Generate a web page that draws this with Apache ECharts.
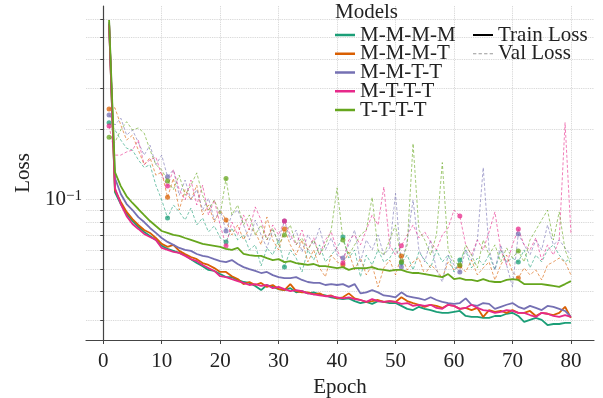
<!DOCTYPE html>
<html>
<head>
<meta charset="utf-8">
<script src="https://cdn.jsdelivr.net/npm/echarts@6/dist/echarts.min.js"></script>
<style>html,body{margin:0;padding:0;background:#fff}#c{width:603px;height:398px}</style>
</head>
<body>
<div id="c"></div>
<script>
const models = ['M-M-M-M','M-M-M-T','M-M-T-T','M-T-T-T','T-T-T-T'];
const colors = ['#1b9e77','#d95f02','#7570b3','#e7298a','#66a61e'];
const epochs = Array.from({length: 80}, (_, i) => i + 1);
const xTickValues = [0,10,20,30,40,50,60,70,80];
const yTickValues = [0.03,0.04,0.05,0.06,0.07,0.08,0.09,0.1,0.2,0.3,0.4,0.5,0.6];
const yLabelValues = [0.1];

const trainMMMM = [0.57,0.1075,0.0954,0.0865,0.0806,0.0760,0.0723,0.0695,0.0668,0.0630,
0.0611,0.0599,0.0587,0.0575,0.0552,0.0531,0.0515,0.0496,0.0491,0.0476,
0.0462,0.0462,0.0449,0.0440,0.0436,0.0423,0.0406,0.0427,0.0419,0.0410,
0.0406,0.0414,0.0397,0.0402,0.0393,0.0397,0.0389,0.0385,0.0378,0.0374,
0.0371,0.0374,0.0364,0.0357,0.0361,0.0354,0.0364,0.0361,0.0357,0.0357,
0.0347,0.0337,0.0333,0.0344,0.0337,0.0333,0.0327,0.0324,0.0324,0.0327,
0.0330,0.0314,0.0311,0.0311,0.0308,0.0308,0.0314,0.0314,0.0321,0.0324,
0.0314,0.0296,0.0302,0.0308,0.0302,0.0287,0.0290,0.0290,0.0293,0.0293];
const trainMMMT = [0.57,0.1097,0.0974,0.0882,0.0822,0.0775,0.0737,0.0716,0.0681,0.0642,
0.0624,0.0636,0.0599,0.0581,0.0564,0.0552,0.0531,0.0521,0.0505,0.0486,
0.0486,0.0466,0.0453,0.0431,0.0440,0.0427,0.0436,0.0419,0.0427,0.0410,
0.0406,0.0431,0.0402,0.0397,0.0397,0.0389,0.0393,0.0382,0.0385,0.0374,
0.0378,0.0393,0.0374,0.0368,0.0361,0.0364,0.0368,0.0361,0.0364,0.0361,
0.0378,0.0364,0.0357,0.0351,0.0344,0.0351,0.0347,0.0340,0.0351,0.0347,
0.0337,0.0340,0.0333,0.0340,0.0311,0.0333,0.0327,0.0330,0.0324,0.0333,
0.0324,0.0324,0.0330,0.0314,0.0324,0.0321,0.0317,0.0324,0.0344,0.0308];
const trainMMTT = [0.58,0.1235,0.1054,0.0954,0.0899,0.0838,0.0798,0.0752,0.0716,0.0681,
0.0655,0.0636,0.0617,0.0605,0.0599,0.0581,0.0570,0.0564,0.0552,0.0541,
0.0536,0.0547,0.0526,0.0510,0.0500,0.0491,0.0481,0.0486,0.0471,0.0462,
0.0457,0.0457,0.0462,0.0449,0.0440,0.0436,0.0436,0.0427,0.0431,0.0427,
0.0431,0.0419,0.0431,0.0393,0.0397,0.0406,0.0397,0.0385,0.0382,0.0378,
0.0397,0.0382,0.0378,0.0374,0.0368,0.0378,0.0368,0.0361,0.0357,0.0354,
0.0357,0.0374,0.0351,0.0347,0.0357,0.0354,0.0337,0.0344,0.0351,0.0357,
0.0344,0.0337,0.0347,0.0340,0.0333,0.0347,0.0344,0.0337,0.0330,0.0311];
const trainMTTT = [0.565,0.1118,0.0954,0.0846,0.0782,0.0745,0.0709,0.0688,0.0668,0.0617,
0.0605,0.0593,0.0587,0.0570,0.0552,0.0541,0.0521,0.0505,0.0491,0.0466,
0.0462,0.0453,0.0444,0.0436,0.0427,0.0431,0.0423,0.0427,0.0414,0.0419,
0.0410,0.0402,0.0406,0.0402,0.0393,0.0389,0.0385,0.0382,0.0382,0.0378,
0.0374,0.0378,0.0371,0.0368,0.0361,0.0371,0.0364,0.0361,0.0364,0.0361,
0.0354,0.0357,0.0347,0.0351,0.0347,0.0351,0.0340,0.0337,0.0351,0.0347,
0.0337,0.0340,0.0351,0.0340,0.0333,0.0330,0.0324,0.0327,0.0333,0.0330,
0.0324,0.0324,0.0317,0.0311,0.0324,0.0321,0.0314,0.0311,0.0317,0.0311];
const trainTTTT = [0.593,0.131,0.114,0.103,0.0964,0.0908,0.0855,0.0806,0.0767,0.0730,
0.0716,0.0702,0.0695,0.0681,0.0668,0.0655,0.0642,0.0636,0.0630,0.0624,
0.0611,0.0605,0.0617,0.0581,0.0575,0.0570,0.0570,0.0558,0.0547,0.0552,
0.0536,0.0541,0.0531,0.0526,0.0521,0.0526,0.0515,0.0515,0.0510,0.0505,
0.0510,0.0496,0.0505,0.0505,0.0505,0.0510,0.0500,0.0496,0.0491,0.0496,
0.0496,0.0486,0.0481,0.0481,0.0476,0.0471,0.0466,0.0462,0.0476,0.0453,
0.0457,0.0449,0.0449,0.0444,0.0453,0.0444,0.0440,0.0440,0.0449,0.0453,
0.0449,0.0431,0.0431,0.0431,0.0431,0.0427,0.0423,0.0419,0.0431,0.0444];

const valMMMM = [0.214,0.199,0.180,0.166,0.163,0.148,0.137,0.141,0.115,0.0993,
0.0831,0.0945,0.0882,0.0814,0.0917,0.0775,0.0831,0.0723,0.0768,0.0682,
0.0655,0.0752,0.0668,0.0702,0.0605,0.0636,0.0516,0.0617,0.0575,0.0668,
0.0511,0.0605,0.0558,0.0486,0.0605,0.0547,0.0636,0.0537,0.0575,0.0617,
0.0688,0.0558,0.0605,0.0463,0.0575,0.0521,0.0605,0.0537,0.0558,0.0617,
0.0531,0.0575,0.0496,0.0593,0.0547,0.0506,0.0605,0.0537,0.0575,0.0486,
0.0547,0.0605,0.0506,0.0558,0.0521,0.0575,0.0496,0.0605,0.0537,0.0558,
0.0537,0.0605,0.0506,0.0575,0.0537,0.0605,0.0636,0.0575,0.0537,0.0558];
const valMMMT = [0.245,0.248,0.209,0.180,0.189,0.163,0.141,0.151,0.127,0.131,
0.102,0.123,0.0899,0.110,0.0993,0.115,0.0856,0.0945,0.0798,0.0899,
0.0814,0.0702,0.0775,0.0668,0.0752,0.0723,0.0636,0.0839,0.0668,0.0605,
0.0744,0.0636,0.0575,0.0668,0.0537,0.0605,0.0506,0.0463,0.0575,0.0537,
0.0521,0.0593,0.0496,0.0558,0.0472,0.0521,0.0419,0.0506,0.0547,0.0472,
0.0569,0.0496,0.0537,0.0558,0.0472,0.0521,0.0496,0.0458,0.0537,0.0496,
0.0516,0.0486,0.0547,0.0472,0.0506,0.0537,0.0449,0.0521,0.0575,0.0486,
0.0458,0.0506,0.0472,0.0496,0.0449,0.0521,0.0537,0.0558,0.0537,0.0472];
const valMMTT = [0.231,0.209,0.224,0.189,0.199,0.176,0.155,0.171,0.141,0.155,
0.125,0.134,0.104,0.121,0.0993,0.110,0.0899,0.101,0.0814,0.0899,
0.0730,0.0856,0.0899,0.0775,0.0668,0.0814,0.0702,0.0617,0.0737,0.0655,
0.0806,0.0668,0.0737,0.0593,0.0702,0.0636,0.0752,0.0605,0.0682,0.0575,
0.0558,0.0636,0.0737,0.0537,0.0668,0.0605,0.0702,0.0575,0.0617,0.106,
0.0511,0.0668,0.0993,0.0605,0.0537,0.0668,0.0496,0.0440,0.0575,0.0521,
0.0486,0.0605,0.0547,0.0668,0.137,0.0605,0.0496,0.0636,0.0521,0.0419,
0.0709,0.0636,0.0575,0.0668,0.0605,0.0775,0.0636,0.0668,0.0617,0.0575];
const valMTTT = [0.207,0.155,0.155,0.160,0.163,0.180,0.141,0.148,0.152,0.127,
0.114,0.134,0.110,0.0993,0.121,0.0945,0.115,0.0856,0.0993,0.0775,
0.0630,0.0798,0.0702,0.0856,0.0737,0.0927,0.0814,0.0668,0.0775,0.0702,
0.0806,0.0702,0.0636,0.0737,0.0605,0.0682,0.0575,0.0668,0.0723,0.0605,
0.0531,0.0668,0.0702,0.0636,0.0737,0.0856,0.0775,0.113,0.0636,0.0575,
0.0630,0.0702,0.0775,0.0682,0.0723,0.0655,0.0605,0.0702,0.0752,0.0899,
0.0847,0.0636,0.0575,0.0668,0.0605,0.0723,0.0882,0.0605,0.0521,0.0636,
0.0744,0.0636,0.0605,0.0682,0.0547,0.0636,0.0575,0.0668,0.214,0.0716];
const valTTTT = [0.185,0.176,0.199,0.216,0.199,0.203,0.193,0.163,0.141,0.134,
0.120,0.110,0.127,0.104,0.115,0.130,0.104,0.0899,0.0993,0.0856,
0.123,0.0856,0.0945,0.0775,0.0856,0.0702,0.0775,0.0668,0.0752,0.0636,
0.0702,0.0775,0.0636,0.0682,0.0605,0.0668,0.0575,0.0636,0.0737,0.112,
0.0668,0.0575,0.0636,0.0702,0.0737,0.102,0.0605,0.0575,0.0668,0.0775,
0.0537,0.0636,0.174,0.0737,0.0668,0.0575,0.0702,0.144,0.0605,0.0537,
0.0521,0.0636,0.0575,0.0506,0.0668,0.0575,0.0636,0.0537,0.0617,0.0558,
0.0599,0.0537,0.0668,0.0737,0.0814,0.0899,0.0668,0.0882,0.0605,0.0521];

const trainData = [trainMMMM, trainMMMT, trainMMTT, trainMTTT, trainTTTT];
const valData = [valMMMM, valMMMT, valMMTT, valMTTT, valTTTT];

const FONT = 'Liberation Serif';
const pairs = arr => epochs.map((e, i) => [e, arr[i]]);

const series = [];
valData.forEach((arr, k) => {
  series.push({
    name: models[k] + ' val', type: 'line', data: pairs(arr),
    showSymbol: true, symbol: 'circle',
    symbolSize: (v, p) => (p.dataIndex % 10 === 0 ? 5 : 0),
    lineStyle: {color: colors[k], width: 1, type: [3, 2], opacity: 0.6},
    itemStyle: {color: colors[k], opacity: 0.75, borderWidth: 0},
    emphasis: {disabled: true}, z: 2
  });
});
trainData.forEach((arr, k) => {
  series.push({
    name: models[k], type: 'line', data: pairs(arr), showSymbol: false,
    lineStyle: {color: colors[k], width: 1.8}, itemStyle: {color: colors[k]},
    emphasis: {disabled: true}, z: 3
  });
});
series.push({name: 'Train Loss', type: 'line', data: [], itemStyle: {color: '#000'}, lineStyle: {color: '#000'}});
series.push({name: 'Val Loss', type: 'line', data: [], itemStyle: {color: '#999'}, lineStyle: {color: '#999'}});

const chart = echarts.init(document.getElementById('c'), null, {renderer: 'canvas'});
chart.setOption({
  animation: false,
  backgroundColor: '#fff',
  title: {text: 'Models', left: 335, top: 2, padding: 0, textStyle: {fontFamily: FONT, fontSize: 21, fontWeight: 'normal', color: '#222'}},
  legend: [
    {data: models, orient: 'vertical', left: 335, top: 24.5, padding: 0, icon: 'rect', itemWidth: 20, itemHeight: 2.5, itemGap: -2.25,
     textStyle: {fontFamily: FONT, fontSize: 21, color: '#222'}, selectedMode: false},
    {data: [{name: 'Train Loss', icon: 'rect'},
            {name: 'Val Loss', icon: 'path://M0,0h3v1h-3zM5,0h3v1h-3zM10,0h3v1h-3zM15,0h3v1h-3z'}],
     orient: 'vertical', left: 473, top: 24.5, padding: 0, itemWidth: 20, itemHeight: 2, itemGap: -2.25,
     textStyle: {fontFamily: FONT, fontSize: 21, color: '#222'}, selectedMode: false}
  ],
  grid: {left: 86, right: 9, top: 6, bottom: 58, containLabel: false, outerBoundsMode: 'none'},
  xAxis: {
    type: 'value', min: -2.95, max: 83.95,
    name: 'Epoch', nameLocation: 'middle', nameGap: 32,
    nameTextStyle: {fontFamily: FONT, fontSize: 21, color: '#222'},
    axisLine: {show: true, lineStyle: {color: '#444', width: 1.2}},
    axisTick: {show: true, length: 4, lineStyle: {color: '#444'}, customValues: xTickValues},
    axisLabel: {fontFamily: FONT, fontSize: 21, color: '#222', margin: 11, customValues: xTickValues},
    splitLine: {show: true, lineStyle: {color: '#cfcfcf', type: 'dotted', width: 0.9}}
  },
  yAxis: {
    type: 'log', logBase: 10, min: 0.02474, max: 0.681,
    name: 'Loss', nameLocation: 'middle', nameGap: 48, nameRotate: 90,
    nameTextStyle: {fontFamily: FONT, fontSize: 21, color: '#222'},
    axisLine: {show: true, lineStyle: {color: '#444', width: 1.2}},
    axisTick: {show: true, length: 3, lineStyle: {color: '#444'}, customValues: yTickValues},
    axisLabel: {
      customValues: yLabelValues, margin: 4,
      formatter: () => '{a|10}{b|\u22121}',
      rich: {a: {fontFamily: FONT, fontSize: 21, color: '#222', lineHeight: 21, verticalAlign: 'bottom'},
             b: {fontFamily: FONT, fontSize: 15, color: '#222', lineHeight: 8, verticalAlign: 'top'}}
    },
    splitLine: {show: true, lineStyle: {color: '#cfcfcf', type: 'dotted', width: 0.9}}
  },
  series: series
});
</script>
</body>
</html>
